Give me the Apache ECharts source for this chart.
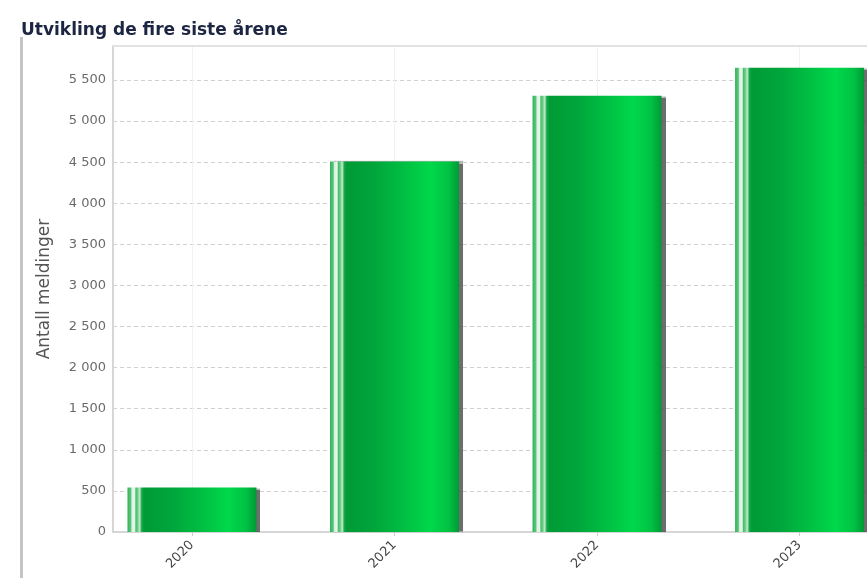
<!DOCTYPE html>
<html>
<head>
<meta charset="utf-8">
<script src="https://cdn.jsdelivr.net/npm/echarts@6/dist/echarts.min.js"></script>
<style>
html,body{margin:0;padding:0;background:#fff;overflow:hidden;}
#c{width:867px;height:578px;}
</style>
</head>
<body>
<div id="c"></div>
<script>
var categories = ['2020', '2021', '2022', '2023'];
var values = [540, 4510, 5310, 5650];
var yTicks = [0, 500, 1000, 1500, 2000, 2500, 3000, 3500, 4000, 4500, 5000, 5500];

function fmtNum(v) {
  var s = String(v);
  return s.replace(/\B(?=(\d{3})+(?!\d))/g, ' ');
}

var chart = echarts.init(document.getElementById('c'), null, {renderer: 'canvas'});

var barGradient = new echarts.graphic.LinearGradient(0, 0, 1, 0, [
  {offset: 0.00, color: '#2eb35a'},
  {offset: 0.025, color: '#5cc47c'},
  {offset: 0.035, color: '#d8f2dd'},
  {offset: 0.055, color: '#e9f8ec'},
  {offset: 0.065, color: '#47bd6c'},
  {offset: 0.08, color: '#6fcf8a'},
  {offset: 0.095, color: '#c3ebcc'},
  {offset: 0.11, color: '#18a94a'},
  {offset: 0.13, color: '#009a36'},
  {offset: 0.35, color: '#00a63b'},
  {offset: 0.60, color: '#00c243'},
  {offset: 0.78, color: '#00d84b'},
  {offset: 0.92, color: '#00c243'},
  {offset: 1.00, color: '#009a36'}
]);

var option = {
  backgroundColor: '#ffffff',
  animation: false,
  title: {
    text: 'Utvikling de fire siste årene',
    left: 16,
    top: 17,
    textStyle: {
      fontFamily: 'DejaVu Sans',
      fontWeight: 'bold',
      fontSize: 17,
      color: '#1c2541'
    }
  },
  graphic: [{
    type: 'rect',
    shape: {x: 20, y: 37, width: 3, height: 560},
    style: {fill: '#c4c4c4'},
    silent: true
  }],
  grid: {
    left: 113,
    top: 46,
    right: 0,
    bottom: 46,
    show: false
  },
  xAxis: [{
    type: 'value',
    min: -0.39,
    max: 3.333,
    axisLine: {show: true, onZero: false, lineStyle: {color: '#d6d6d6', width: 2}},
    axisTick: {show: true, customValues: [0, 1, 2, 3], length: 4, lineStyle: {color: '#cccccc'}},
    axisLabel: {
      customValues: [0, 1, 2, 3],
      rotate: 45,
      margin: 11,
      fontFamily: 'DejaVu Sans',
      fontSize: 13,
      color: '#444',
      formatter: function (v) { return categories[Math.round(v)] || ''; }
    },
    splitLine: {show: false}
  }, {
    type: 'value',
    position: 'top',
    min: -0.39,
    max: 3.333,
    axisLine: {show: true, onZero: false, lineStyle: {color: '#e2e2e2', width: 2}},
    axisTick: {show: false},
    axisLabel: {show: false},
    splitLine: {show: false}
  }],
  yAxis: {
    type: 'value',
    min: 0,
    max: 5914,
    interval: 500,
    name: 'Antall meldinger',
    nameLocation: 'middle',
    nameGap: 60,
    nameTextStyle: {fontFamily: 'DejaVu Sans', fontSize: 17, color: '#555'},
    axisLine: {show: true, onZero: false, lineStyle: {color: '#d6d6d6', width: 2}},
    axisTick: {show: false},
    axisLabel: {
      showMaxLabel: false,
      margin: 7,
      fontFamily: 'DejaVu Sans',
      fontSize: 13,
      color: '#6a6a6a',
      formatter: function (v) { return yTicks.indexOf(v) >= 0 ? fmtNum(v) : ''; }
    },
    splitLine: {show: true, lineStyle: {color: '#d0d0d0', type: [4, 3], width: 1}}
  },
  series: [{
    type: 'bar',
    xAxisIndex: 0,
    barWidth: 129,
    data: values.map(function (v, i) { return [i, v]; }),
    itemStyle: {
      color: barGradient,
      shadowColor: 'rgba(60,60,60,0.75)',
      shadowOffsetX: 4,
      shadowOffsetY: 0,
      shadowBlur: 1
    },
    markLine: {
      silent: true,
      symbol: 'none',
      label: {show: false},
      lineStyle: {color: '#f2f2f2', type: 'solid', width: 1},
      data: categories.map(function (c, i) { return {xAxis: i}; }),
      z: 0
    },
    z: 3
  }]
};

chart.setOption(option);
</script>
</body>
</html>
